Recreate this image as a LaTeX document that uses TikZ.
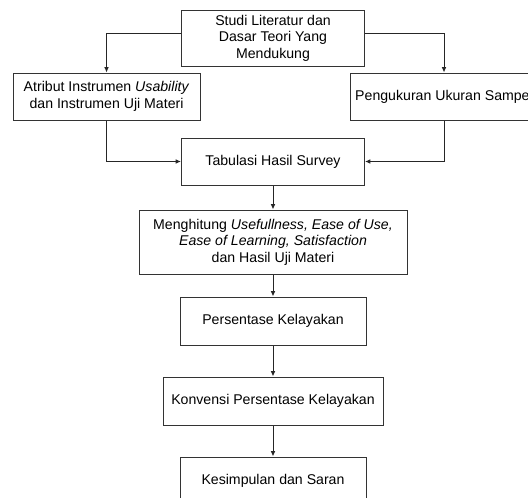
\documentclass[tikz,border=0pt]{standalone}
\usepackage{fontspec}
\setmainfont{Liberation Sans}
\usetikzlibrary{arrows.meta, positioning}

\begin{document}
\begin{tikzpicture}[
	block/.style={rectangle, draw=black!80, line width=0.75pt, inner sep=0pt, minimum width=137.25pt, minimum height=36pt, align=center, font=\fontsize{10.6}{12.4}\selectfont},
	arrow/.style={-{Latex[length=4pt, width=3.5pt]}, draw=black!85, line width=0.75pt},
	node distance=23.25pt
]
	\useasboundingbox (0,0) rectangle (396pt,-372.75pt);
	\node[block, minimum height=42pt] (studi) at (204.75pt,-28.5pt) {Studi Literatur dan\\Dasar Teori Yang\\Mendukung};
	\node[block, minimum width=140.25pt, minimum height=35.25pt] (atribut) at (79.9pt,-72.4pt) {Atribut Instrumen \textit{Usability}\\dan Instrumen Uji Materi};
	\node[block, minimum width=140.25pt, minimum height=35.25pt] (sampel) at (333pt,-72.4pt) {Pengukuran Ukuran Sampel};
	\node[block, below=53.25pt of studi, minimum height=35.25pt] (tabulasi) {Tabulasi Hasil Survey};
	\node[block, below=18pt of tabulasi, minimum width=201pt, minimum height=48pt] (hitung) {Menghitung \textit{Usefullness, Ease of Use,}\\\textit{Ease of Learning, Satisfaction}\\dan Hasil Uji Materi};
	\node[block, below=16.5pt of hitung, minimum width=139.5pt] (persen) {Persentase Kelayakan};
	\node[block, below=of persen, minimum width=165pt] (konversi) {Konvensi Persentase Kelayakan};
	\node[block, below=of konversi, minimum width=139.5pt] (simpul) {Kesimpulan dan Saran};

	\draw[arrow] ([yshift=3.75pt]studi.west) -| (atribut);
	\draw[arrow] ([yshift=3.75pt]studi.east) -| (sampel);
	\draw[arrow] (atribut) |- (tabulasi);
	\draw[arrow] (sampel) |- (tabulasi);
	\draw[arrow] (tabulasi) -- (hitung);
	\draw[arrow] (hitung) -- (persen);
	\draw[arrow] (persen) -- (konversi);
	\draw[arrow] (konversi) -- (simpul);
\end{tikzpicture}
\end{document}
